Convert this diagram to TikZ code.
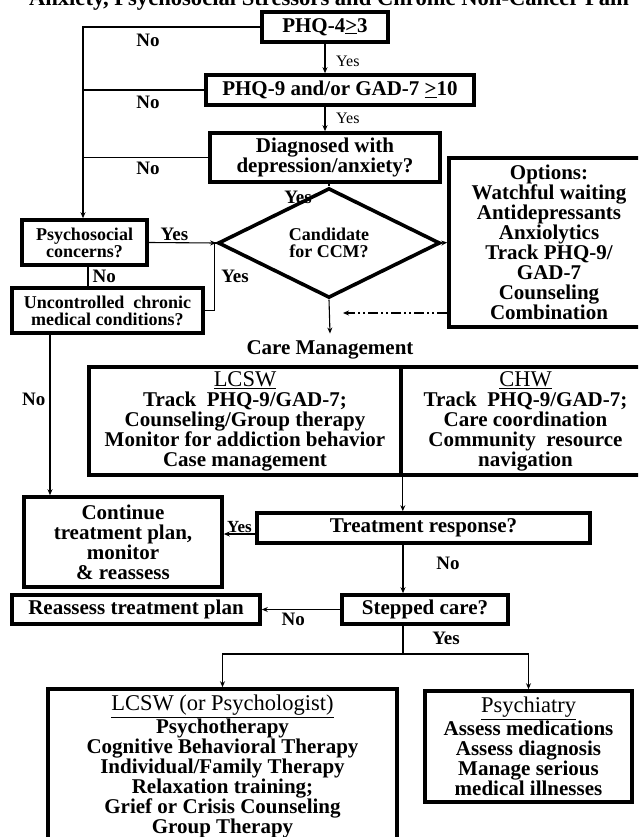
\documentclass[tikz,border=0pt]{standalone}
\usepackage{fontspec}
\setmainfont{Liberation Serif}
\usetikzlibrary{shapes.geometric,arrows.meta,positioning}
\newcommand{\boxhead}[1]{\underline{\fontsize{22.5}{20}\selectfont\mdseries #1}}

\begin{document}
\begin{tikzpicture}[
    x=1pt, y=-1pt,
    every node/.style={align=center, inner sep=0pt},
    box/.style={rectangle, draw, line width=3.6pt, text centered, font=\fontsize{21}{20}\selectfont\bfseries},
    smallbox/.style={box, font=\fontsize{18}{17}\selectfont\bfseries},
    decision/.style={diamond, draw, line width=3.6pt, minimum width=222, minimum height=86, text centered, font=\fontsize{18}{17}\selectfont\bfseries},
    link/.style={line width=1.1pt},
    arrow/.style={link, -{Stealth[length=6pt,width=5pt]}},
    lbl/.style={font=\fontsize{19}{19}\selectfont\bfseries},
    smalllbl/.style={font=\fontsize{17}{17}\selectfont\bfseries},
    thinlbl/.style={font=\fontsize{16}{16}\selectfont}
]
\useasboundingbox (0,0) rectangle (638,837);
\clip (0,0) rectangle (638,837);

% Title (cut at the top)
\node[font=\fontsize{22.6}{22}\selectfont\bfseries, anchor=base] (title) at (329,6) {Anxiety, Psychosocial Stressors and Chronic Non-Cancer Pain};

% Screening
\node[box, minimum width=126, minimum height=30] (phq4) at (325,27) {PHQ-4\underline{>}3};
\node[box, minimum width=268, minimum height=30] (phq9) at (340,90) {PHQ-9 and/or GAD-7 \underline{>}10};
\node[box, minimum width=230, minimum height=49] (diag) at (325,157.5) {Diagnosed with\\depression/anxiety?};
\node[decision] (ccm) at (329,243) {Candidate\\for CCM?};
\node[box, minimum width=200, minimum height=169] (opts) at (549,242.5) {Options:\\Watchful waiting\\Antidepressants\\Anxiolytics\\Track PHQ-9/\\GAD-7\\Counseling\\Combination};
\node[smallbox, minimum width=125, minimum height=45] (psych) at (84.5,242.5) {Psychosocial\\concerns?};
\node[smallbox, minimum width=191, minimum height=45] (chronic) at (107.5,310.5) {Uncontrolled\ \ chronic\\medical conditions?};

% Care management
\node[font=\fontsize{21}{20}\selectfont\bfseries] (cm) at (330,350) {Care Management};
\node[box, minimum width=312, minimum height=108] (lcsw) at (245,421) {\boxhead{LCSW}\\Track\ \ PHQ-9/GAD-7;\\Counseling/Group therapy\\Monitor for addiction behavior\\Case management};
\node[box, minimum width=249, minimum height=108] (chw) at (525.5,421) {\boxhead{CHW}\\Track\ \ PHQ-9/GAD-7;\\Care coordination\\Community\ \ resource\\navigation};

% Follow-up
\node[box, minimum width=198, minimum height=90] (cont) at (123,542) {Continue\\treatment plan,\\monitor\\\& reassess};
\node[box, minimum width=333, minimum height=30] (resp) at (423.5,528) {Treatment response?};
\node[box, minimum width=166, minimum height=29] (stepped) at (425,609.5) {Stepped care?};
\node[box, minimum width=248, minimum height=29] (reassess) at (136,609.5) {Reassess treatment plan};
\node[box, minimum width=349, minimum height=155] (therapy) at (222.5,766.5) {\boxhead{LCSW (or Psychologist)}\\Psychotherapy\\Cognitive Behavioral Therapy\\Individual/Family Therapy\\Relaxation training;\\Grief or Crisis Counseling\\Group Therapy};
\node[box, minimum width=207, minimum height=111] (psychiatry) at (528.5,746.5) {\boxhead{Psychiatry}\\Assess medications\\Assess diagnosis\\Manage serious\\medical illnesses};

% Labels
\node[thinlbl, anchor=west] (yes1) at (336,61) {Yes};
\node[thinlbl, anchor=west] (yes2) at (336,118) {Yes};
\node[lbl] (no1) at (148,40) {No};
\node[lbl] (no2) at (148,102) {No};
\node[lbl] (no3) at (148,168) {No};
\node[lbl] (yes3) at (298,197) {Yes};
\node[lbl] (yes5) at (235,276) {Yes};
\node[lbl] (no6) at (448,563) {No};
\node[lbl] (yes7) at (446,638) {Yes};
\coordinate (leftline) at ([xshift=-1.5]psych.north);
\coordinate (dashend) at (343,313);
\coordinate (fork) at (403,654);

% Arrows
\draw[arrow] (phq4.south) -- (phq4.south |- phq9.north);
\draw[arrow] (phq4.south |- phq9.south) -- (phq4.south |- diag.north);
\draw[link] (diag.south -| ccm.north) -- (ccm.north);
\draw[arrow] (phq4.west) -| (leftline);
\draw[link] (phq9.west) -- (phq9.west -| leftline);
\draw[link] (diag.west) -- (diag.west -| leftline);
\draw[arrow] (psych.east) -- (ccm.west) node[lbl, pos=0.38, above=1pt] (yes4) {Yes};
\draw[link] ([xshift=3.5]psych.south) -- ([xshift=3.5]psych.south |- chronic.north) node[lbl, midway, right=4pt] (no4) {No};
\draw[link] (chronic.east) -- ++(10,0) |- (ccm.west);
\draw[arrow] (ccm.east) -- (opts.west);
\draw[arrow] (ccm.south) -- ([yshift=7pt]cm.north);
\draw[arrow, dash pattern=on 10pt off 3pt on 2pt off 3pt on 2pt off 3pt] (opts.west |- dashend) -- (dashend);
\draw[arrow] ([xshift=-57.5]chronic.south) -- ([xshift=-57.5]chronic.south |- cont.north) node[lbl, pos=0.4, left=4pt] (no5) {No};
\draw[arrow] (lcsw.south east) -- (lcsw.south east |- resp.north);
\draw[arrow] ([yshift=-6]resp.west) -- ([yshift=-6]resp.west -| cont.east) node[smalllbl, midway, above=1pt] (yes6) {Yes};
\draw[arrow] (resp.south -| fork) -- (stepped.north -| fork);
\draw[arrow] (stepped.west) -- (reassess.east) node[lbl, pos=0.6, below=3pt] (no7) {No};
\draw[link] (stepped.south -| fork) -- (fork);
\draw[arrow] (fork) -| (therapy.north);
\draw[arrow] (fork) -| (psychiatry.north);

\end{tikzpicture}
\end{document}
